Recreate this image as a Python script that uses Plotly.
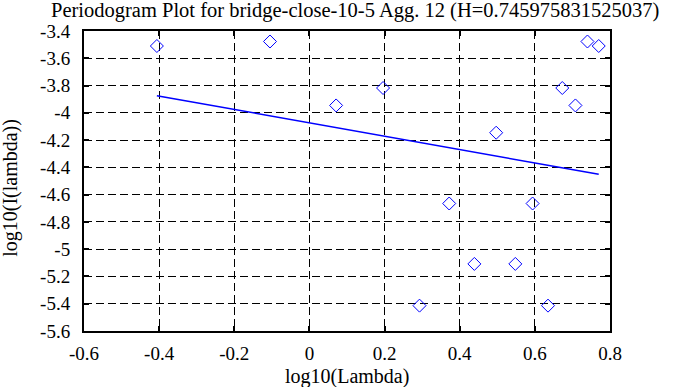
import plotly.graph_objects as go

log_lambda = [-0.406, -0.105, 0.071, 0.196, 0.293, 0.372, 0.439, 0.497,
              0.548, 0.594, 0.635, 0.673, 0.708, 0.740, 0.770]
log_I = [-3.510, -3.477, -3.946, -3.818, -5.414, -4.665, -5.108, -4.146,
         -5.108, -4.665, -5.414, -3.818, -3.946, -3.477, -3.510]
fit_x = [-0.406, 0.770]
fit_y = [-3.874, -4.451]

x_ticks = [-0.6, -0.4, -0.2, 0, 0.2, 0.4, 0.6, 0.8]
x_labels = ["-0.6", "-0.4", "-0.2", "0", "0.2", "0.4", "0.6", "0.8"]
y_ticks = [-3.4, -3.6, -3.8, -4.0, -4.2, -4.4, -4.6, -4.8, -5.0, -5.2, -5.4, -5.6]
y_labels = ["-3.4", "-3.6", "-3.8", "-4", "-4.2", "-4.4", "-4.6", "-4.8", "-5", "-5.2", "-5.4", "-5.6"]

FONT = "Liberation Serif, Times New Roman, serif"

fig = go.Figure()
fig.add_trace(go.Scatter(
    x=log_lambda, y=log_I, mode="markers",
    marker=dict(symbol="diamond-open", size=10, color="#0000ff", line=dict(width=1, color="#0000ff")),
    showlegend=False, hoverinfo="skip"))
fig.add_trace(go.Scatter(
    x=fit_x, y=fit_y, mode="lines",
    line=dict(color="#0000ff", width=1.5),
    showlegend=False, hoverinfo="skip"))

axis_common = dict(
    showline=True, linecolor="black", linewidth=2, mirror="ticks",
    ticks="inside", ticklen=5, tickwidth=2, tickcolor="black",
    showgrid=True, gridcolor="black", gridwidth=1, griddash="8px,4px",
    zeroline=False, automargin=False,
    tickfont=dict(family=FONT, size=19, color="black"),
)

fig.update_xaxes(range=[-0.6, 0.8], tickvals=x_ticks, ticktext=x_labels,
                 ticklabelstandoff=4, **axis_common)
fig.update_yaxes(range=[-5.6, -3.4], tickvals=y_ticks, ticktext=y_labels,
                 ticklabelstandoff=8, **axis_common)

fig.update_layout(
    width=695, height=387,
    margin=dict(l=84, r=85, t=31, b=56),
    paper_bgcolor="white", plot_bgcolor="white",
    title=dict(text="Periodogram Plot for bridge-close-10-5 Agg. 12 (H=0.745975831525037)",
               font=dict(family=FONT, size=20.5, color="black"),
               x=0.511, xanchor="center", y=0.9735, yanchor="middle",
               xref="container", yref="container"),
    annotations=[
        dict(text="log10(Lambda)", xref="paper", yref="paper", x=0.5, y=-0.152,
             xanchor="center", yanchor="middle", showarrow=False,
             font=dict(family=FONT, size=20, color="black")),
        dict(text="log10(I(lambda))", xref="paper", yref="paper", x=-0.139, y=0.477,
             xanchor="center", yanchor="middle", showarrow=False, textangle=-90,
             font=dict(family=FONT, size=20, color="black")),
    ],
)

fig.write_html("out.html", config={"displayModeBar": False},
               post_script="document.body.style.margin='0';")
